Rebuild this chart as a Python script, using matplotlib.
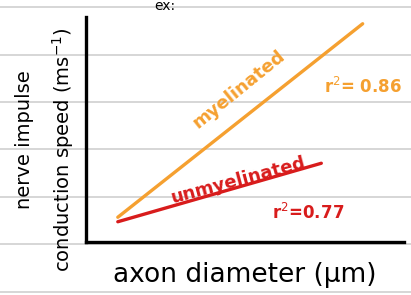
import matplotlib
matplotlib.use("Agg")
import matplotlib.pyplot as plt
import numpy as np

# line end points (axon diameter, conduction speed) in arbitrary units
myel_x = [1.0, 8.7]
myel_y = [1.1, 9.7]
unmyel_x = [1.0, 7.4]
unmyel_y = [0.9, 3.5]
r2_myel = "0.86"
r2_unmyel = "0.77"

orange = '#f5a030'
red = '#d81c1c'

fig = plt.figure(figsize=(4.11, 2.95), dpi=100)
fig.patch.set_facecolor('white')

# ruled notebook lines in the background
bg = fig.add_axes([0, 0, 1, 1], zorder=0)
bg.set_xlim(0, 411)
bg.set_ylim(295, 0)
bg.axis('off')
for yy in [7, 55, 102, 149, 197, 244, 292]:
    bg.axhline(yy, color='#d6d6d6', lw=1.4)
bg.text(165, 6, "ex:", fontsize=10, ha='center', va='center')

ax = fig.add_axes([86/411, 53/295, 318/411, 225/295], zorder=1)
ax.patch.set_alpha(0)
ax.set_xlim(0, 10)
ax.set_ylim(0, 10)
ax.spines['top'].set_visible(False)
ax.spines['right'].set_visible(False)
ax.spines['left'].set_linewidth(2.4)
ax.spines['bottom'].set_linewidth(2.4)
ax.set_xticks([])
ax.set_yticks([])

ax.plot(myel_x, myel_y, color=orange, lw=2.4, solid_capstyle='round')
ax.plot(unmyel_x, unmyel_y, color=red, lw=2.4, solid_capstyle='round')

ax.text(4.8, 6.8, "myelinated", color=orange, fontsize=13, fontweight='bold',
        rotation=39, ha='center', va='center', rotation_mode='anchor')
ax.text(8.7, 6.9, "r$^2$= " + r2_myel, color=orange, fontsize=12, fontweight='bold',
        ha='center', va='center')
ax.text(4.8, 2.75, "unmyelinated", color=red, fontsize=13, fontweight='bold',
        rotation=15, ha='center', va='center', rotation_mode='anchor')
ax.text(7.0, 1.3, "r$^2$=" + r2_unmyel, color=red, fontsize=12, fontweight='bold',
        ha='center', va='center')

fig.text(25/411, 1 - 140/295, "nerve impulse", rotation=90, fontsize=14,
         ha='center', va='center')
fig.text(63/411, 1 - 150/295, "conduction speed (ms$^{-1}$)", rotation=90, fontsize=14,
         ha='center', va='center')
fig.text(245/411, 1 - 275/295, "axon diameter (µm)", fontsize=19,
         ha='center', va='center')

fig.savefig("out.png", dpi=100)
